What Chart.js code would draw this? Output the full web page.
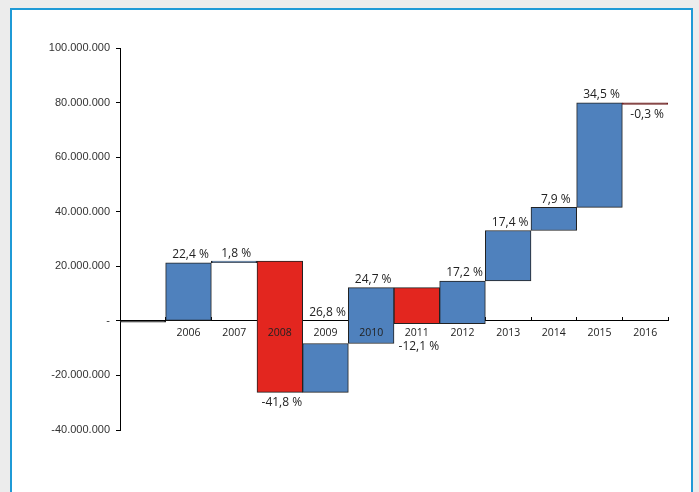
<!DOCTYPE html>
<html>
<head>
<meta charset="utf-8">
<script src="https://cdn.jsdelivr.net/npm/chart.js@4/dist/chart.umd.min.js"></script>
<style>
  html, body { margin: 0; padding: 0; background: #ececec; overflow: hidden; }
  #frame { position: absolute; left: 10px; top: 8px; width: 679px; height: 500px;
           background: #fff; border: 2px solid #1f9ad6; }
  #chart { position: absolute; left: 0; top: 0; }
</style>
</head>
<body>
<div id="frame"></div>
<canvas id="chart" width="699" height="492"></canvas>
<script>
// Waterfall: each bar floats from its start to its end value
var years = ['', '2006', '2007', '2008', '2009', '2010', '2011', '2012', '2013', '2014', '2015', '2016'];
var starts = [0, 0, 21300000, 21900000, -26200000, -8300000, 12200000, -1000000, 14600000, 33100000, 41600000, 79900000];
var ends = [-500000, 21300000, 21900000, -26200000, -8300000, 12200000, -1000000, 14600000, 33100000, 41600000, 79900000, 79300000];
var changes = [null, '22,4 %', '1,8 %', '-41,8 %', '26,8 %', '24,7 %', '-12,1 %', '17,2 %', '17,4 %', '7,9 %', '34,5 %', '-0,3 %'];
var yTicks = [-40000000, -20000000, 0, 20000000, 40000000, 60000000, 80000000, 100000000];

var BLUE = '#4f81bd', RED = '#e3261f', DARKRED = '#6d1f1f';
var colors = ends.map(function (e, i) {
    if (i === 0) return '#222';
    if (i === years.length - 1) return DARKRED;
    return e >= starts[i] ? BLUE : RED;
});
var borders = colors.map(function (c, i) { return i === years.length - 1 ? DARKRED : '#222'; });
var floating = starts.map(function (s, i) { return [s, ends[i]]; });

// percent labels above rising bars, below falling ones
var changeLabels = {
    id: 'changeLabels',
    afterDatasetsDraw: function (chart) {
        var ctx = chart.ctx;
        var meta = chart.getDatasetMeta(0);
        var axisY = chart.scales.y.getPixelForValue(0);
        ctx.save();
        ctx.font = '12px "Open Sans"';
        ctx.fillStyle = '#222';
        ctx.textAlign = 'center';
        meta.data.forEach(function (bar, i) {
            if (!changes[i]) return;
            var top = Math.min(bar.y, bar.base);
            var bottom = Math.max(bar.y, bar.base);
            if (ends[i] >= starts[i]) {
                ctx.textBaseline = 'bottom';
                ctx.fillText(changes[i], bar.x + 2, Math.min(top, axisY) - 2);
            } else {
                ctx.textBaseline = 'top';
                var y = bottom + 4;
                if (y > axisY - 4 && y < axisY + 20) y = axisY + 20;
                ctx.fillText(changes[i], bar.x + 2, y);
            }
        });
        ctx.restore();
    }
};

var ctx = document.getElementById('chart').getContext('2d');
new Chart(ctx, {
    type: 'bar',
    data: {
        labels: years,
        datasets: [{
            data: floating,
            backgroundColor: colors,
            borderColor: borders,
            borderWidth: 1,
            borderSkipped: false,
            categoryPercentage: 1,
            barPercentage: 1
        }]
    },
    options: {
        responsive: false,
        animation: false,
        devicePixelRatio: 1,
        layout: { padding: { left: 40, right: 31, top: 48, bottom: 62 } },
        plugins: { legend: { display: false }, tooltip: { enabled: false } },
        scales: {
            x: {
                position: { y: 0 },
                grid: { drawOnChartArea: false, tickLength: -4, color: '#000' },
                border: { color: '#000', width: 1 },
                ticks: {
                    z: 1,
                    padding: 10,
                    color: '#222',
                    font: { family: 'Open Sans', size: 10.5 }
                }
            },
            y: {
                min: -40000000,
                max: 100000000,
                afterBuildTicks: function (scale) {
                    scale.ticks = yTicks.map(function (v) { return { value: v }; });
                },
                afterFit: function (scale) { scale.width = 80; },
                grid: { drawOnChartArea: false, tickLength: 4, color: '#000' },
                border: { color: '#000', width: 1 },
                ticks: {
                    padding: 6,
                    color: '#333',
                    font: { family: 'Liberation Sans', size: 11 },
                    callback: function (v) {
                        return v === 0 ? '-' : v.toLocaleString('de-DE');
                    }
                }
            }
        }
    },
    plugins: [changeLabels]
});
</script>
</body>
</html>
